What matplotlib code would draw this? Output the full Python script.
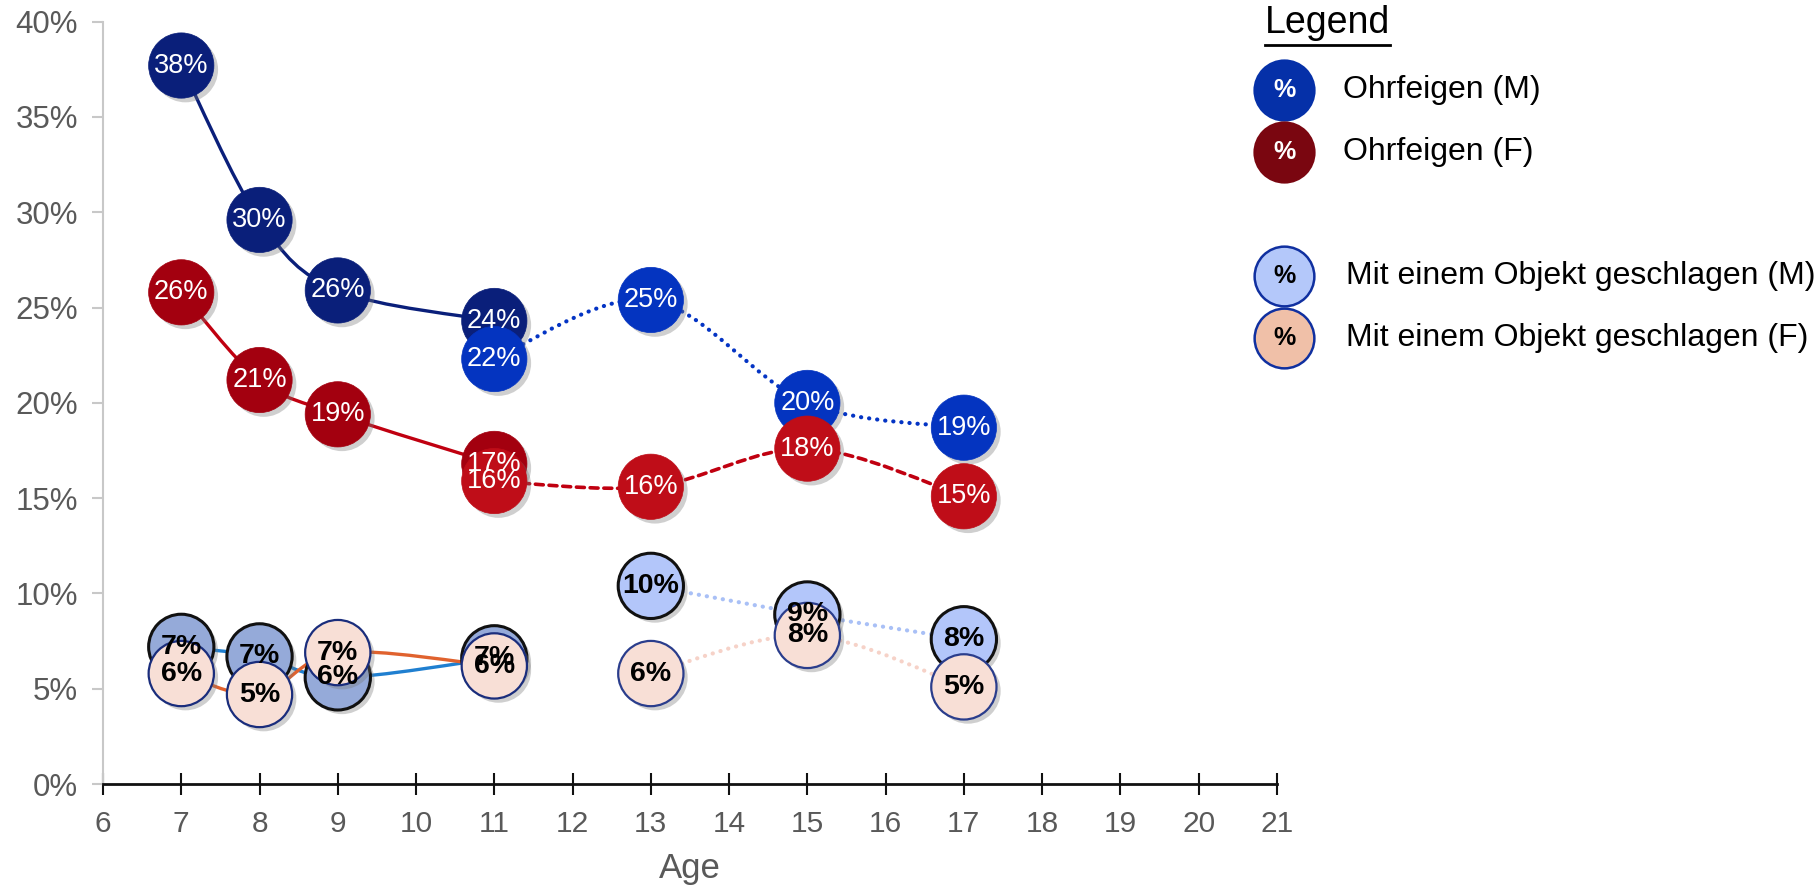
import numpy as np
import matplotlib
matplotlib.use('Agg')
import matplotlib.pyplot as plt
from matplotlib.path import Path
from matplotlib.patches import PathPatch
from matplotlib.lines import Line2D
import matplotlib.patheffects as pe

plt.rcParams['font.family'] = ['Liberation Sans', 'DejaVu Sans']

# data (percent)
age_a = [7, 8, 9, 11]
age_b = [11, 13, 15, 17]
age_c = [13, 15, 17]

slap_m_a = [37.7, 29.6, 25.9, 24.3]
slap_m_b = [22.3, 25.4, 20.0, 18.7]
slap_f_a = [25.8, 21.2, 19.4, 16.8]
slap_f_b = [15.9, 15.6, 17.6, 15.1]

obj_m_a = [7.2, 6.7, 5.6, 6.6]
obj_f_a = [5.8, 4.7, 6.9, 6.2]
obj_m_c = [10.4, 8.9, 7.6]
obj_f_c = [5.8, 7.8, 5.1]

legend_labels = ['Ohrfeigen (M)', 'Ohrfeigen (F)',
                 'Mit einem Objekt geschlagen (M)', 'Mit einem Objekt geschlagen (F)']

xticks = list(range(6, 22))
yticks = list(range(0, 41, 5))


def smooth_path(xs, ys):
    # cubic bezier through the points (excel style smoothed line)
    pts = np.column_stack([xs, ys]).astype(float)
    n = len(pts)
    verts = [pts[0]]
    codes = [Path.MOVETO]
    for i in range(n - 1):
        p0 = pts[i - 1] if i > 0 else pts[i]
        p1 = pts[i]
        p2 = pts[i + 1]
        p3 = pts[i + 2] if i + 2 < n else pts[i + 1]
        c1 = p1 + (p2 - p0) / 6.0
        c2 = p2 - (p3 - p1) / 6.0
        verts += [c1, c2, p2]
        codes += [Path.CURVE4] * 3
    return Path(verts, codes)


def draw_line(ax, xs, ys, color, ls='-', lw=2.4, z=2):
    patch = PathPatch(smooth_path(xs, ys), fill=False, edgecolor=color,
                      lw=lw, ls=ls, capstyle='round', joinstyle='round',
                      transform=ax.transData, zorder=z)
    ax.add_patch(patch)


shadow = [pe.SimplePatchShadow(offset=(3, -3), shadow_rgbFace='#777777', alpha=0.35), pe.Normal()]


def draw_markers(ax, xs, ys, face, edge, ew, z):
    ax.plot(xs, ys, ls='none', marker='o', ms=47, mfc=face, mec=edge, mew=ew,
            zorder=z, path_effects=shadow)


def draw_labels(ax, xs, ys, color, bold):
    for x, y in zip(xs, ys):
        ax.text(x, y, '%d%%' % int(round(y)), ha='center', va='center',
                color=color, fontsize=20.5 if bold else 19.5,
                fontweight='bold' if bold else 'normal', zorder=20)


fig = plt.figure(figsize=(18.2, 8.89), dpi=100)
ax = fig.add_axes([0.0566, 0.118, 0.645, 0.8576])

dots = (0, (0.05, 1.9))

# lines
draw_line(ax, age_a, slap_m_a, '#0a1f7a')
draw_line(ax, age_b, slap_m_b, '#0434c4', ls=dots, lw=3)
draw_line(ax, age_a, slap_f_a, '#c00010')
draw_line(ax, age_b, slap_f_b, '#c00010', ls=(0, (2.2, 1.6)), lw=2.6)
draw_line(ax, age_a, obj_m_a, '#1f7fd0')
draw_line(ax, age_a, obj_f_a, '#e0622e')
draw_line(ax, age_c, obj_m_c, '#a9c0f6', ls=dots, lw=3)
draw_line(ax, age_c, obj_f_c, '#f6d2c8', ls=dots, lw=3)

# markers
draw_markers(ax, age_a, slap_m_a, '#0a1f7a', '#0a1f7a', 0.5, 5)
draw_markers(ax, age_b, slap_m_b, '#0434c0', '#0434c0', 0.5, 6)
draw_markers(ax, age_a, slap_f_a, '#a3000f', '#a3000f', 0.5, 7)
draw_markers(ax, age_b, slap_f_b, '#bf0d18', '#bf0d18', 0.5, 8)
draw_markers(ax, age_a, obj_m_a, '#95aad9', '#111111', 2.2, 9)
draw_markers(ax, age_c, obj_m_c, '#b3c6fa', '#111111', 2.2, 9)
draw_markers(ax, age_a, obj_f_a, '#f8dfd6', '#1a2d7c', 1.6, 10)
draw_markers(ax, age_c, obj_f_c, '#f8dfd6', '#2a3d8c', 1.6, 10)

# data labels
draw_labels(ax, age_a, slap_m_a, 'white', False)
draw_labels(ax, age_b, slap_m_b, 'white', False)
draw_labels(ax, age_a, slap_f_a, 'white', False)
draw_labels(ax, age_b, slap_f_b, 'white', False)
draw_labels(ax, age_a, obj_m_a, 'black', True)
draw_labels(ax, age_c, obj_m_c, 'black', True)
draw_labels(ax, age_a, obj_f_a, 'black', True)
draw_labels(ax, age_c, obj_f_c, 'black', True)

# axes
ax.set_xlim(6, 21)
ax.set_ylim(0, 40)
ax.set_xticks(xticks)
ax.set_yticks(yticks)
ax.set_yticklabels(['%d%%' % v for v in yticks])
for s in ['top', 'right']:
    ax.spines[s].set_visible(False)
ax.spines['left'].set_color('#c8c8c8')
ax.spines['left'].set_linewidth(1.5)
ax.spines['bottom'].set_color('#111111')
ax.spines['bottom'].set_linewidth(2)
ax.tick_params(axis='y', colors='#c8c8c8', labelcolor='#595959', labelsize=22.5,
               length=8, width=1.5, pad=10)
ax.tick_params(axis='x', colors='#111111', labelcolor='#595959', labelsize=21.5,
               direction='inout', length=16, width=1.5, pad=11)
ax.set_xlabel('Age', fontsize=25, color='#595959', labelpad=10)

# legend
fig.text(1327 / 1820, 1 - 23 / 889, 'Legend', fontsize=27, ha='center', va='center')
fig.add_artist(Line2D([1265 / 1820, 1390 / 1820], [1 - 45 / 889, 1 - 45 / 889],
                      color='black', lw=2, transform=fig.transFigure))
leg_y = [90, 152, 276, 338]
leg_face = ['#0530a8', '#7a0610', '#b4c8fa', '#f0c0a8']
leg_edge = ['#0530a8', '#7a0610', '#1030a0', '#1030a0']
leg_txt = ['white', 'white', 'black', 'black']
leg_x = [1343, 1343, 1346, 1346]
for lab, yy, fc, ec, tc, tx in zip(legend_labels, leg_y, leg_face, leg_edge, leg_txt, leg_x):
    fy = 1 - yy / 889
    fig.add_artist(Line2D([1284 / 1820], [fy], ls='none', marker='o', ms=43,
                          mfc=fc, mec=ec, mew=1.8, transform=fig.transFigure))
    fig.text(1284 / 1820, fy, '%', color=tc, fontsize=18, fontweight='bold',
             ha='center', va='center')
    fig.text(tx / 1820, fy, lab, fontsize=23, ha='left', va='center')

fig.savefig('out.png', dpi=100)
